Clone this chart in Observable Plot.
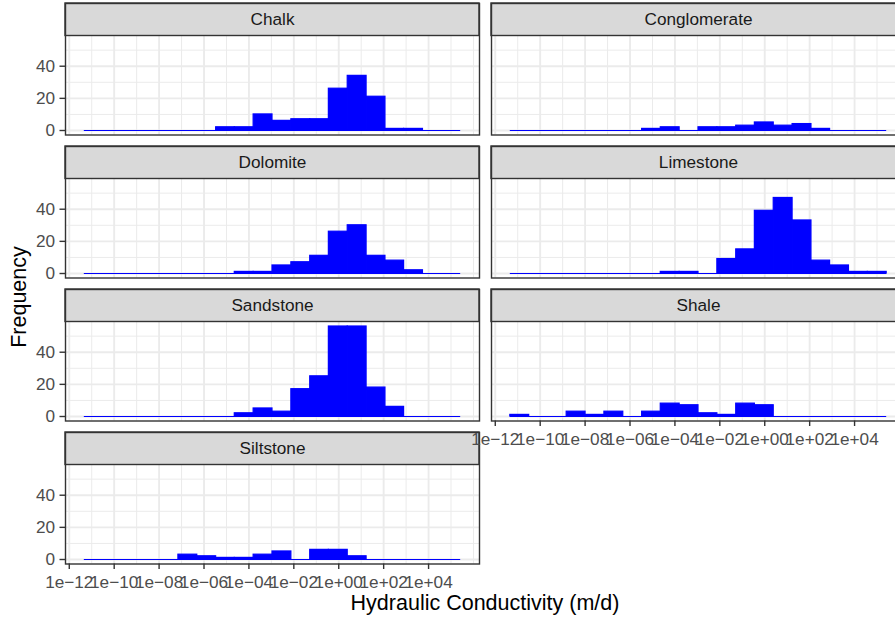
<!DOCTYPE html>
<html>
<head>
<meta charset="utf-8">
<script src="https://cdn.jsdelivr.net/npm/d3@7"></script>
<script src="https://cdn.jsdelivr.net/npm/@observablehq/plot@0.6"></script>
<style>
  html, body { margin: 0; padding: 0; overflow: hidden; background: #ffffff; }
  #chart svg { max-width: none !important; height: 621px !important; }
</style>
</head>
<body>
<div id="chart"></div>
<script>
// ---------------- data ----------------
const rockTypes = ["Chalk", "Conglomerate", "Dolomite", "Limestone", "Sandstone", "Shale", "Siltstone"];

// histogram bin edges, as log10 of hydraulic conductivity (m/d)
const binEdgesLog10 = [-11.33, -10.49, -9.65, -8.82, -7.98, -7.14, -6.30, -5.46, -4.63, -3.79, -2.95,
                       -2.11, -1.27, -0.44, 0.40, 1.24, 2.08, 2.91, 3.75, 4.59, 5.43];

// counts per bin (20 bins)
const chalk        = [0, 0, 0, 0, 0, 0, 0, 2, 2, 10, 6, 7, 7, 26, 34, 21, 1, 1, 0, 0];
const conglomerate = [0, 0, 0, 0, 0, 0, 0, 1, 2, 0, 2, 2, 3, 5, 3, 4, 1, 0, 0, 0];
const dolomite     = [0, 0, 0, 0, 0, 0, 0, 0, 1, 1, 5, 7, 11, 26, 30, 11, 8, 2, 0, 0];
const limestone    = [0, 0, 0, 0, 0, 0, 0, 0, 1, 1, 0, 9, 15, 39, 47, 33, 8, 5, 1, 1];
const sandstone    = [0, 0, 0, 0, 0, 0, 0, 0, 2, 5, 3, 17, 25, 56, 56, 18, 6, 0, 0, 0];
const shale        = [1, 0, 0, 3, 1, 3, 0, 3, 8, 7, 2, 1, 8, 7, 0, 0, 0, 0, 0, 0];
const siltstone    = [0, 0, 0, 0, 0, 3, 2, 1, 1, 3, 5, 0, 6, 6, 2, 0, 0, 0, 0, 0];
const countsByType = [chalk, conglomerate, dolomite, limestone, sandstone, shale, siltstone];

const xTickExponents = [-12, -10, -8, -6, -4, -2, 0, 2, 4];
const xTickLabels = ["1e\u221212", "1e\u221210", "1e\u221208", "1e\u221206", "1e\u221204", "1e\u221202", "1e+00", "1e+02", "1e+04"];
const xMinorExponents = [-11, -9, -7, -5, -3, -1, 1, 3, 5, 6];
const yTicks = [0, 20, 40];
const yMinorTicks = [10, 30, 50];
const xTitle = "Hydraulic Conductivity (m/d)";
const yTitle = "Frequency";

// ---------------- derived tables ----------------
const NCOL = 2;
const panels = rockTypes.map((name, i) => ({name, col: i % NCOL, row: Math.floor(i / NCOL)}));
const bars = [];
panels.forEach((p, i) => {
  countsByType[i].forEach((c, k) => {
    if (c > 0) bars.push({...p, x1: 10 ** binEdgesLog10[k], x2: 10 ** binEdgesLog10[k + 1], count: c});
  });
});
const nE = binEdgesLog10.length - 1;
const baselines = panels.map(p => ({...p, x1: 10 ** binEdgesLog10[0], x2: 10 ** binEdgesLog10[nE]}));

const eLo = binEdgesLog10[0], eHi = binEdgesLog10[nE], eSpan = eHi - eLo;
const xDomain = [10 ** (eLo - 0.05 * eSpan), 10 ** (eHi + 0.05 * eSpan)];
const xMid = 10 ** ((eLo + eHi) / 2);
const yMax = d3.max(countsByType.flat());
const yLo = -0.05 * yMax, yHi = 1.05 * yMax;
const PANEL_H = 99, STRIP_H = 32.5;
const yTop = yHi + (yHi - yLo) * STRIP_H / PANEL_H;

const labelByExp = new Map(xTickExponents.map((e, i) => [e, xTickLabels[i]]));

const FONT = "'Liberation Sans', Arial, Helvetica, sans-serif";
const GRID = "#EBEBEB";
const DARK = "#333333";
const BLUE = "#0000FF";

const chart = Plot.plot({
  width: 906,
  height: 621,
  marginTop: 3,
  marginRight: 1,
  marginBottom: 57.5,
  marginLeft: 65,
  facet: {marginTop: 0, marginRight: 0, marginBottom: 0, marginLeft: 0},
  style: {fontFamily: FONT, fontSize: "17.2px", background: "white", overflow: "visible", maxWidth: "none"},
  fx: {axis: null, paddingInner: 12 / 426, paddingOuter: 0, round: false},
  fy: {axis: null, paddingInner: 11.5 / 143, paddingOuter: 0, round: false},
  x: {type: "log", domain: xDomain},
  y: {domain: [yLo, yTop]},
  marks: [
    // minor and major grid
    Plot.ruleY(yMinorTicks, {stroke: GRID, strokeWidth: 1}),
    Plot.ruleX(xMinorExponents.map(e => 10 ** e), {y1: yLo, y2: yHi, stroke: GRID, strokeWidth: 1}),
    Plot.ruleY(yTicks, {stroke: GRID, strokeWidth: 1.9}),
    Plot.ruleX(xTickExponents.map(e => 10 ** e), {y1: yLo, y2: yHi, stroke: GRID, strokeWidth: 1.9}),
    // zero-height bins outline
    Plot.ruleY(baselines, {y: 0, x1: "x1", x2: "x2", fx: "col", fy: "row", stroke: BLUE, strokeWidth: 1.2}),
    // histogram bars
    Plot.rectY(bars, {x1: "x1", x2: "x2", y: "count", fx: "col", fy: "row", fill: BLUE, stroke: BLUE, strokeWidth: 1.2}),
    // strip background
    Plot.rect(panels, {x1: () => xDomain[0], x2: () => xDomain[1], y1: () => yHi, y2: () => yTop,
                       fx: "col", fy: "row", fill: "#D9D9D9", stroke: DARK, strokeWidth: 1.4}),
    Plot.frame({stroke: DARK, strokeWidth: 1.4}),
    Plot.text(panels, {x: () => xMid, y: () => (yHi + yTop) / 2, text: "name", fx: "col", fy: "row",
                       fill: "#1A1A1A", fontSize: 17.2}),
    Plot.axisX(xTickExponents.map(e => 10 ** e), {
      tickFormat: d => labelByExp.get(Math.round(Math.log10(d))),
      tickSize: 5.5, tickPadding: 6, stroke: DARK, strokeWidth: 1.4, fill: "#4D4D4D",
      fontSize: 17.2, label: null, facetAnchor: "bottom-empty"
    }),
    Plot.axisY(yTicks, {
      tickSize: 5.5, tickPadding: 5, stroke: DARK, strokeWidth: 1.4, fill: "#4D4D4D",
      fontSize: 17.2, label: null, facetAnchor: "left"
    })
  ]
});

chart.style.maxWidth = "none";
chart.style.height = "621px";
document.getElementById("chart").appendChild(chart);

const svg = d3.select(chart);
svg.append("text")
  .attr("x", (65 + 905) / 2).attr("y", 610)
  .attr("text-anchor", "middle")
  .attr("font-family", FONT).attr("font-size", 21.5).attr("fill", "#000")
  .text(xTitle);
svg.append("text")
  .attr("transform", "translate(26,297) rotate(-90)")
  .attr("text-anchor", "middle")
  .attr("font-family", FONT).attr("font-size", 21.5).attr("fill", "#000")
  .text(yTitle);
</script>
</body>
</html>
